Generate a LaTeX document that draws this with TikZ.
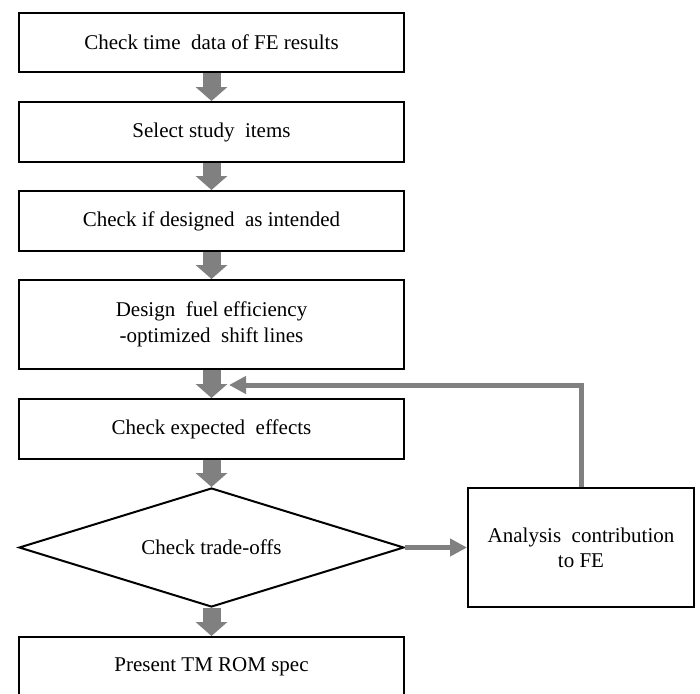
\documentclass[tikz,border=0pt]{standalone}
\usepackage{fontspec}
\setmainfont{Liberation Serif}
\usetikzlibrary{arrows.meta,shapes.geometric}

\definecolor{flowgray}{RGB}{128,128,128}

\tikzset{
  stepbox/.style={draw=black, line width=2pt, fill=white, minimum width=385pt,
    inner sep=0pt, align=center, font=\fontsize{21}{26}\selectfont},
  sidebox/.style={draw=black, line width=2pt, fill=white, minimum width=226pt,
    minimum height=119pt, inner sep=0pt, align=center, font=\fontsize{21}{25}\selectfont},
  decision/.style={draw=black, line width=2pt, fill=white, diamond, aspect=3.235,
    minimum width=385pt, minimum height=119pt, inner sep=0pt,
    font=\fontsize{21}{26}\selectfont},
  bigarrow/.style={draw=flowgray, line width=18pt,
    -{Triangle[width=31pt,length=14pt]}},
  thinarrow/.style={draw=flowgray, line width=5pt,
    -{Triangle[width=17pt,length=17pt]}},
}

\begin{document}
\begin{tikzpicture}[x=1pt, y=-1pt]
  \useasboundingbox (0,0) rectangle (700,693);

  % main flow
  \node[stepbox, minimum height=59pt] (b1) at (211.5,42.5) {Check time\ \ data of FE results};
  \node[stepbox, minimum height=60pt] (b2) at (211.5,132) {Select study\ \ items};
  \node[stepbox, minimum height=60pt] (b3) at (211.5,221) {Check if designed\ \ as intended};
  \node[stepbox, minimum height=89pt] (b4) at (211.5,324.5) {Design\ \ fuel efficiency\\-optimized\ \ shift lines};
  \node[stepbox, minimum height=60pt] (b5) at (211.5,429) {Check expected\ \ effects};
  \node[decision] (d1) at (211.5,547.5) {Check trade-offs};
  \node[stepbox, minimum height=60pt] (b6) at (211.5,667) {Present TM ROM spec};

  % side branch
  \node[sidebox] (an) at (581,547.5) {Analysis\ \ contribution\\to FE};

  % feedback route
  \coordinate (fbcorner) at (581,385);
  \coordinate (fbend) at (229,385);

  % connectors
  \draw[bigarrow] (b1.south) -- (b2.north);
  \draw[bigarrow] (b2.south) -- (b3.north);
  \draw[bigarrow] (b3.south) -- (b4.north);
  \draw[bigarrow] (b4.south) -- (b5.north);
  \draw[bigarrow] (b5.south) -- (d1.north);
  \draw[bigarrow] (d1.south) -- (b6.north);
  \draw[thinarrow] (d1.east) -- (an.west);
  \draw[thinarrow] (an.north) -- (fbcorner) -- (fbend);
\end{tikzpicture}
\end{document}
